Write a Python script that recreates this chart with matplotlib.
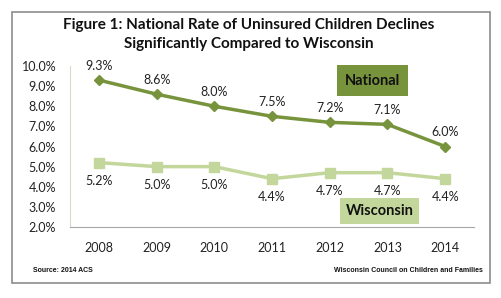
import matplotlib
matplotlib.use("Agg")
import matplotlib.pyplot as plt
from matplotlib.patches import Rectangle
from matplotlib.ticker import FuncFormatter

years = ["2008", "2009", "2010", "2011", "2012", "2013", "2014"]
national = [9.3, 8.6, 8.0, 7.5, 7.2, 7.1, 6.0]
wisconsin = [5.2, 5.0, 5.0, 4.4, 4.7, 4.7, 4.4]
yticks = [2, 3, 4, 5, 6, 7, 8, 9, 10]

nat_color = "#77933C"
wis_color = "#C3D69B"

plt.rcParams['font.family'] = ['Lato', 'DejaVu Sans']

fig = plt.figure(figsize=(5.01, 2.98), dpi=100)
fig.patches.append(Rectangle((12/501, 1-283/298), 478/501, 271/298,
                             transform=fig.transFigure, fill=False,
                             edgecolor="#8C8C8C", linewidth=1.2))

ax = fig.add_axes([70/501, 1-227/298, 404/501, 161/298])
x = list(range(len(years)))
ax.plot(x, national, color=nat_color, lw=2.5, marker="D", ms=5.5, zorder=3)
ax.plot(x, wisconsin, color=wis_color, lw=2.5, marker="s", ms=7, zorder=3)

for xi, v in zip(x, national):
    ax.annotate(f"{v:.1f}%", (xi, v), xytext=(0, 6), textcoords="offset points",
                ha="center", va="bottom", fontsize=9, color="#222222")
for xi, v in zip(x, wisconsin):
    ax.annotate(f"{v:.1f}%", (xi, v), xytext=(0, -9), textcoords="offset points",
                ha="center", va="top", fontsize=9, color="#222222")

ax.set_xlim(-0.5, len(years) - 0.5)
ax.set_ylim(2, 10)
ax.set_yticks(yticks)
ax.yaxis.set_major_formatter(FuncFormatter(lambda v, p: f"{v:.1f}%"))
ax.set_xticks(x)
ax.set_xticklabels(years)
ax.tick_params(axis="both", length=0, labelsize=9, colors="#222222")
ax.tick_params(axis="x", pad=11)
ax.tick_params(axis="y", pad=10)
for s in ["top", "right"]:
    ax.spines[s].set_visible(False)
ax.spines["left"].set_color("#D9D9C9")
ax.spines["bottom"].set_color("#A6A6A6")

fig.text(0.497, 1-25/298, "Figure 1: National Rate of Uninsured Children Declines",
         ha="center", va="center", fontsize=11, fontweight="bold", color="#111111")
fig.text(0.497, 1-44/298, "Significantly Compared to Wisconsin",
         ha="center", va="center", fontsize=11, fontweight="bold", color="#111111")

fig.text(372.5/501, 1-80.5/298, "National", ha="center", va="center",
         fontsize=10.5, fontweight="bold", color="#111111",
         bbox=dict(boxstyle="square,pad=0.55", facecolor=nat_color, edgecolor="none"))
fig.text(379.5/501, 1-211/298, "Wisconsin", ha="center", va="center",
         fontsize=10.5, fontweight="bold", color="#111111",
         bbox=dict(boxstyle="square,pad=0.4", facecolor=wis_color, edgecolor="none"))

fig.text(33/501, 1-270/298, "Source: 2014 ACS", ha="left", va="center",
         fontsize=5, family="Liberation Sans", fontweight="bold", color="#111111")
fig.text(483/501, 1-270/298, "Wisconsin Council on Children and Families", ha="right",
         va="center", fontsize=5, family="Liberation Sans", fontweight="bold", color="#111111")

fig.savefig("out.png", dpi=100)
